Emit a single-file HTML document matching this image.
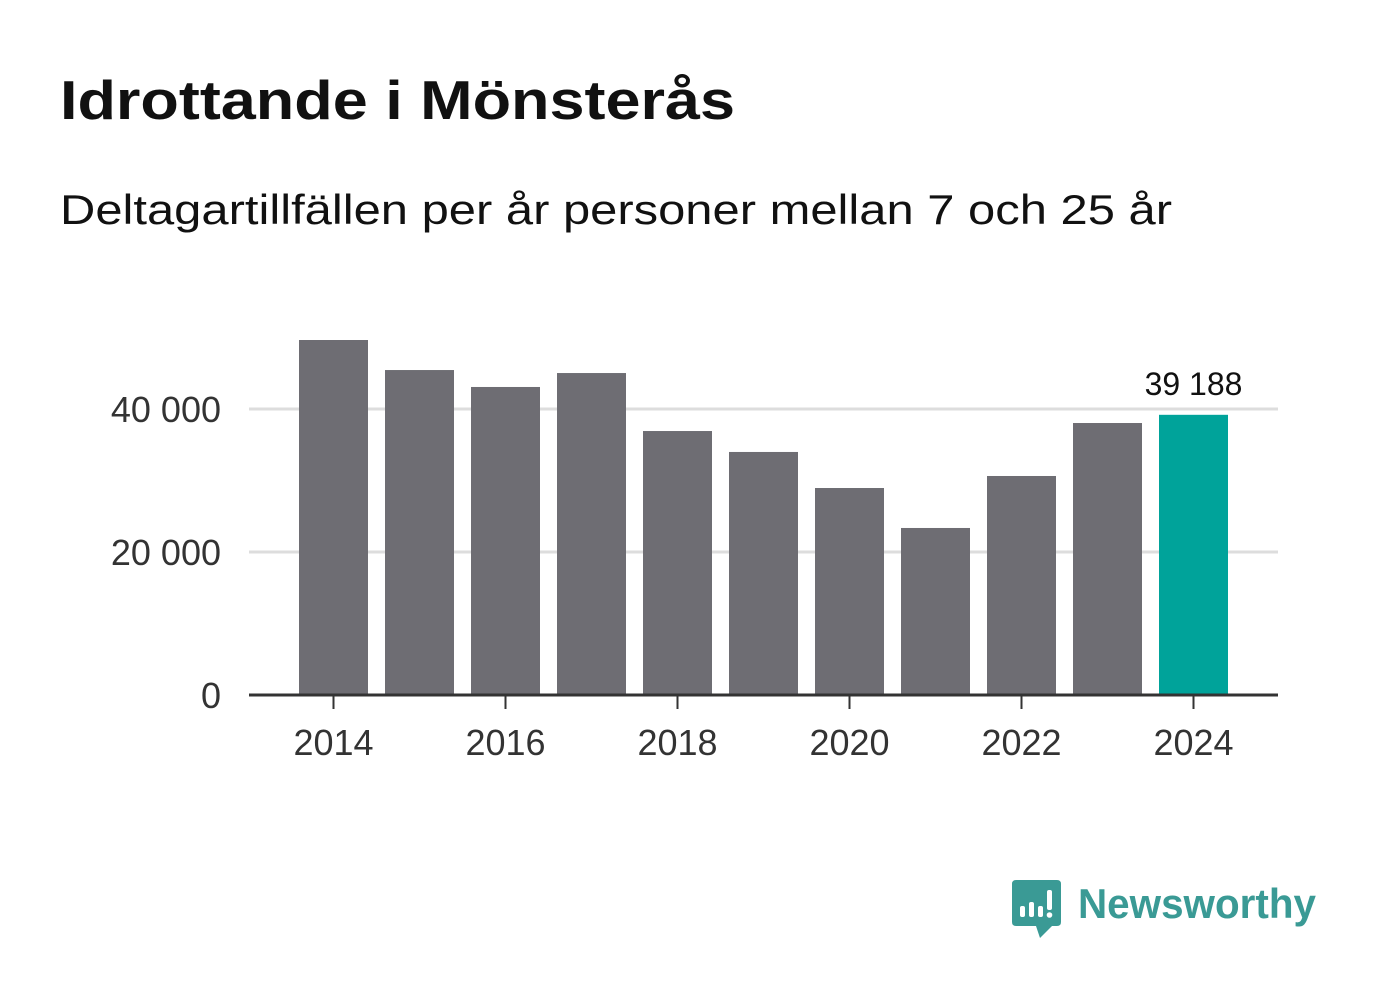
<!DOCTYPE html>
<html><head><meta charset="utf-8"><style>
body{margin:0;background:#fff;width:1382px;height:999px;overflow:hidden;font-family:"Liberation Sans",sans-serif}
</style></head><body>
<svg width="1382" height="999" xmlns="http://www.w3.org/2000/svg">
<text x="60" y="119" font-size="55" font-weight="bold" fill="#111" textLength="675" lengthAdjust="spacingAndGlyphs">Idrottande i Mönsterås</text>
<text x="60" y="224" font-size="42" fill="#111" textLength="1112" lengthAdjust="spacingAndGlyphs">Deltagartillfällen per år personer mellan 7 och 25 år</text>
<g id="grid"></g><g id="bars"></g><g id="axis"></g>
<g>
<path d="M1016 880 H1057 Q1061 880 1061 884 V922 Q1061 926 1057 926 H1052 L1040 938 L1036 926 H1016 Q1012 926 1012 922 V884 Q1012 880 1016 880 Z" fill="#3a9a95"/>
<rect x="1020" y="906" width="5" height="11" rx="2" fill="#fff"/>
<rect x="1029" y="902" width="5" height="15" rx="2" fill="#fff"/>
<rect x="1038" y="906" width="5" height="11" rx="2" fill="#fff"/>
<rect x="1047" y="890" width="5" height="20" rx="2" fill="#fff"/>
<circle cx="1049.5" cy="915" r="2.8" fill="#fff"/>
<text x="1078" y="918" font-size="42" font-weight="bold" fill="#3a9a95" textLength="238" lengthAdjust="spacingAndGlyphs">Newsworthy</text>
</g>
</svg>
<script>
const years=[2014,2015,2016,2017,2018,2019,2020,2021,2022,2023,2024];
const values=[49650,45450,43080,45030,36920,33990,28950,23360,30630,38040,39188];
const yTicks=[0,20000,40000];
const yTickLabels=["0","20 000","40 000"];
const xTickYears=[2014,2016,2018,2020,2022,2024];
const NS="http://www.w3.org/2000/svg";
const y=v=>695-v*143/20000;
const x=yr=>333.5+(yr-2014)*86;
function mk(t,a,p){const e=document.createElementNS(NS,t);for(const k in a)e.setAttribute(k,a[k]);p.appendChild(e);return e;}
const grid=document.getElementById('grid'),bars=document.getElementById('bars'),axis=document.getElementById('axis');
yTicks.forEach((v,i)=>{
 if(v>0){const l=mk('line',{x1:249,x2:1278,y1:y(v),y2:y(v),stroke:'#ddd','stroke-width':3},grid);
 
 }
 const t=mk('text',{x:221,y:y(v)+13,'font-size':36,fill:'#333','text-anchor':'end'},axis);t.textContent=yTickLabels[i];
 
 
});
years.forEach((yr,i)=>{
 const last=i===years.length-1;
 const r=mk('rect',{x:x(yr)-34.5,y:y(values[i]),width:69,height:695-y(values[i]),fill:last?'#00a39a':'#6e6d73'},bars);
 
 
 if(last){const t=mk('text',{x:x(yr),y:y(values[i])-20,'font-size':32,fill:'#111','text-anchor':'middle'},bars);
 t.textContent=values[i].toLocaleString('sv-SE').replace(/\s/g,' ');
 
 }
});
const ax=mk('line',{x1:249,x2:1278,y1:695,y2:695,stroke:'#333','stroke-width':3},axis);


xTickYears.forEach(yr=>{
 mk('line',{x1:x(yr),x2:x(yr),y1:695,y2:709,stroke:'#333','stroke-width':2},axis);
 const t=mk('text',{x:x(yr),y:755,'font-size':36,fill:'#333','text-anchor':'middle'},axis);t.textContent=yr;
 
 
});
</script>
</body></html>
